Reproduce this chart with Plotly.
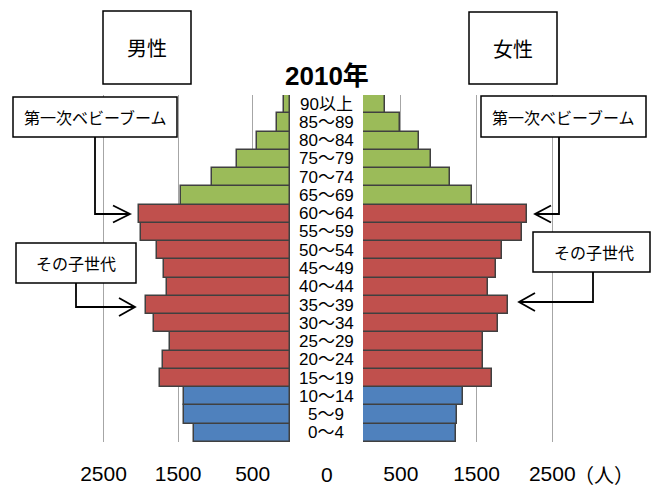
import plotly.graph_objects as go

# ---- data ----
ages = ["0～4", "5～9", "10～14", "15～19", "20～24", "25～29", "30～34", "35～39",
        "40～44", "45～49", "50～54", "55～59", "60～64", "65～69", "70～74", "75～79",
        "80～84", "85～89", "90以上"]
male = [1287, 1425, 1416, 1747, 1707, 1613, 1819, 1930, 1653, 1689, 1787, 1993, 2024,
        1466, 1046, 715, 438, 170, 75]
female = [1224, 1246, 1325, 1704, 1590, 1590, 1779, 1915, 1655, 1753, 1841, 2105, 2162,
          1440, 1149, 894, 744, 485, 291]
tick_vals = [500, 1500, 2500]
tick_text = ["500", "1500", "2500"]
title_text = "2010年"

W, H = 651, 486
def px(x):
    return x / W
def py(y):
    return 1 - y / H

BLUE, RED, GREEN = "#4F81BD", "#C0504D", "#9BBB59"
def color_for(i):
    if i <= 2:
        return BLUE
    if i <= 12:
        return RED
    return GREEN
colors = [color_for(i) for i in range(len(ages))]

FONT = "Liberation Sans, Noto Sans CJK JP, sans-serif"
CJK = "Noto Sans CJK JP, sans-serif"

fig = go.Figure()
fig.add_trace(go.Bar(y=ages, x=male, orientation="h", xaxis="x", yaxis="y",
                     marker=dict(color=colors, line=dict(color="#404040", width=1.5)),
                     showlegend=False))
fig.add_trace(go.Bar(y=ages, x=female, orientation="h", xaxis="x2", yaxis="y",
                     marker=dict(color=colors, line=dict(color="#404040", width=1.5)),
                     showlegend=False))

left_base, left_scale = 290, 0.0746
right_base, right_scale = 363, 0.0757

axis_common = dict(showgrid=True, gridcolor="#A6A6A6", gridwidth=1, zeroline=False,
                   showline=False, tickvals=tick_vals, ticktext=tick_text, ticks="",
                   tickfont=dict(family=FONT, size=21, color="#000"),
                   ticklabelstandoff=17, fixedrange=True)

fig.update_layout(
    width=W, height=H, autosize=False,
    margin=dict(l=0, r=0, t=0, b=0),
    paper_bgcolor="white", plot_bgcolor="rgba(0,0,0,0)",
    bargap=0,
    xaxis=dict(domain=[0, px(left_base)], range=[left_base / left_scale, 0],
               anchor="y", **axis_common),
    xaxis2=dict(domain=[px(right_base), 1], range=[0, (W - right_base) / right_scale],
                anchor="y", **axis_common),
    yaxis=dict(domain=[py(442), py(95)], range=[-0.5, len(ages) - 0.5],
               showticklabels=False, showgrid=False, zeroline=False, showline=False,
               type="category", fixedrange=True),
    font=dict(family=FONT),
)

annotations = []
# age labels in the middle
for a in ages:
    annotations.append(dict(x=px(326), y=a, xref="paper", yref="y", text=a,
                            showarrow=False, xanchor="center", yanchor="middle",
                            font=dict(family=FONT, size=17, color="#000")))
# title
annotations.append(dict(x=px(327), y=py(76), xref="paper", yref="paper",
                        text="<b>" + title_text + "</b>", showarrow=False,
                        xanchor="center", yanchor="middle",
                        font=dict(family=FONT, size=26, color="#000")))
# extra axis texts
annotations.append(dict(x=px(327), y=py(474), xref="paper", yref="paper", text="0",
                        showarrow=False, xanchor="center", yanchor="middle",
                        font=dict(family=FONT, size=21, color="#000")))
annotations.append(dict(x=px(604), y=py(474), xref="paper", yref="paper", text="（人）",
                        showarrow=False, xanchor="center", yanchor="middle",
                        font=dict(family=CJK, size=20, color="#000")))

boxes = [
    ((103, 11, 191, 84), "男性", 20, 147),
    ((469, 12, 557, 84), "女性", 20, 513),
    ((13, 97, 177, 137), "第一次ベビーブーム", 16, 95),
    ((481, 96, 646, 137), "第一次ベビーブーム", 16, 563),
    ((16, 243, 136, 283), "その子世代", 16, 76),
    ((533, 232, 650, 272), "その子世代", 16, 594),
]
shapes = []
for (x0, y0, x1, y1), txt, fs, cx in boxes:
    shapes.append(dict(type="rect", xref="paper", yref="paper",
                       x0=px(x0), x1=px(x1), y0=py(y1), y1=py(y0),
                       fillcolor="white", line=dict(color="#000", width=1.5),
                       layer="above"))
    annotations.append(dict(x=px(cx), y=py((y0 + y1) / 2), xref="paper", yref="paper",
                            text=txt, showarrow=False, xanchor="center",
                            yanchor="middle", font=dict(family=CJK, size=fs, color="#000")))

def path(points_list):
    s = ""
    for pts in points_list:
        for k, (x, y) in enumerate(pts):
            s += ("M" if k == 0 else "L") + f"{px(x):.5f},{py(y):.5f} "
    return s.strip()

connectors = [
    # (vertical x, top y, elbow y, tip x, wing x, wing half height)
    (95, 137, 214, 130, 113, 8.5),
    (76, 283, 307, 135, 119, 9),
    (559, 137, 214, 535, 551, 8.5),
    (593, 272, 302, 519, 535, 9),
]
for vx, ty, ey, tipx, wx, hh in connectors:
    p = path([[(vx, ty), (vx, ey), (tipx, ey)],
              [(wx, ey - hh), (tipx, ey), (wx, ey + hh)]])
    shapes.append(dict(type="path", xref="paper", yref="paper", path=p,
                       line=dict(color="#000", width=1.8), layer="above"))

fig.update_layout(annotations=annotations, shapes=shapes)
fig.write_html("out.html", config={"displayModeBar": False},
               post_script="document.body.style.margin='0';document.body.style.overflow='hidden';")
